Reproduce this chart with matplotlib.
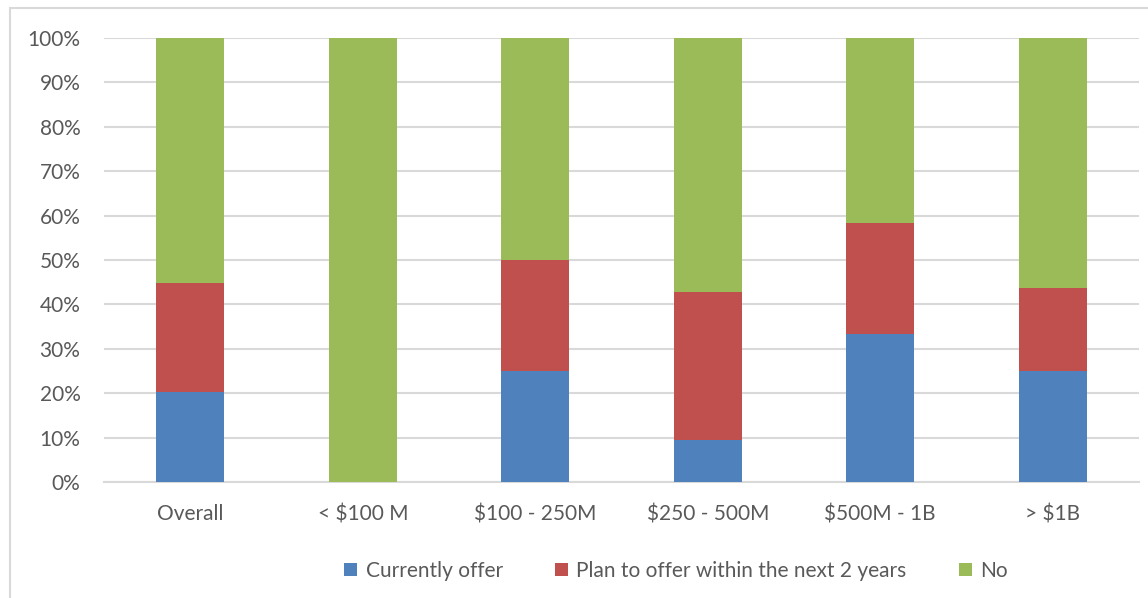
import matplotlib
matplotlib.use("Agg")
import matplotlib.pyplot as plt
from matplotlib.patches import Rectangle
from matplotlib.ticker import PercentFormatter
import numpy as np

categories = ["Overall", "< $100 M", "$100 - 250M", "$250 - 500M", "$500M - 1B", "> $1B"]
current = [20.2, 0.0, 25.0, 9.5, 33.3, 25.0]
plan = [24.7, 0.0, 25.0, 33.3, 25.0, 18.75]
no = [55.1, 100.0, 50.0, 57.2, 41.7, 56.25]
series_names = ["Currently offer", "Plan to offer within the next 2 years", "No"]
colors = ["#4F81BD", "#C0504D", "#9BBB59"]

plt.rcParams['font.family'] = ['Lato', 'DejaVu Sans']
txt = "#595959"
grid = "#d9d9d9"

fig = plt.figure(figsize=(11.48, 5.98), dpi=100)
ax = fig.add_axes([104/1148, 1-482/598, (1139-104)/1148, (482-38)/598])

x = np.arange(len(categories))
bottom = np.zeros(len(categories))
for vals, name, c in zip([current, plan, no], series_names, colors):
    ax.bar(x, vals, 0.394, bottom=bottom, color=c, label=name, zorder=3)
    bottom += np.array(vals)

ax.set_xlim(-0.5, len(categories) - 0.5)
ax.set_ylim(0, 100)
ax.set_yticks(np.arange(0, 101, 10))
ax.yaxis.set_major_formatter(PercentFormatter(decimals=0))
ax.set_xticks(x)
ax.set_xticklabels(categories)
ax.grid(axis='y', color=grid, lw=1.5, zorder=0)
for s in ['top', 'right', 'left']:
    ax.spines[s].set_visible(False)
ax.spines['bottom'].set_color(grid)
ax.spines['bottom'].set_linewidth(1.5)
ax.tick_params(axis='both', length=0, labelsize=15, colors=txt)
ax.tick_params(axis='y', pad=17)
ax.tick_params(axis='x', pad=16)

leg = fig.legend(loc='center', bbox_to_anchor=(676/1148, 1-571/598), ncol=3, frameon=False,
                 fontsize=15, handlelength=0.63, handleheight=0.63, handletextpad=0.4,
                 columnspacing=2.5)
for t in leg.get_texts():
    t.set_color(txt)

fig.add_artist(Rectangle((10/1148, -0.05), 1.2, 1.05 - 8/598, transform=fig.transFigure,
                         fill=False, edgecolor=grid, lw=1.5))

fig.savefig("out.png", dpi=100)
